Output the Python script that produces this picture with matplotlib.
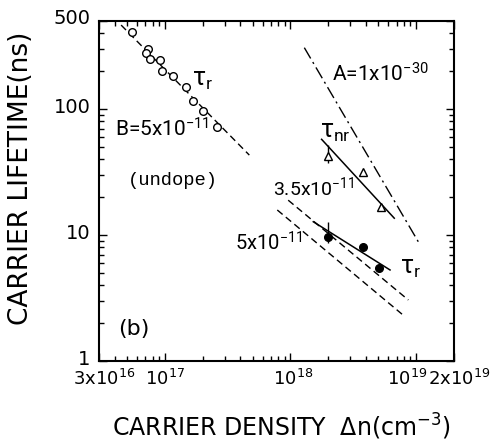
import numpy as np
import matplotlib.pyplot as plt
import matplotlib.transforms as mtransforms
from matplotlib.ticker import LogLocator, FixedLocator, FixedFormatter, NullFormatter

plt.rcParams['font.family'] = ['DejaVu Sans']
plt.rcParams['mathtext.fontset'] = 'dejavusans'
# Roboto math, used only by the annotations (math_fontfamily='custom')
plt.rcParams['mathtext.rm'] = 'Roboto'
plt.rcParams['mathtext.it'] = 'Roboto:italic'
plt.rcParams['mathtext.bf'] = 'Roboto:bold'

# undoped sample, radiative lifetime (open circles)
undope_n = [5.5e16, 7.3e16, 7.1e16, 7.7e16, 9.2e16, 9.5e16, 1.16e17, 1.47e17, 1.69e17, 2.03e17, 2.62e17]
undope_tau = [408, 299, 277, 248, 245, 200, 183, 150, 116, 96, 72]
# B = 5e-11 fit line
b_line_n = [4.5e16, 4.71e17]
b_line_tau = [464, 43.1]

# non-radiative lifetime (open triangles)
nr_n = [2.0e18, 3.8e18, 5.3e18]
nr_tau = [42.4, 31.8, 16.8]
nr_err_lo = [37.3]
nr_err_hi = [51.8]
nr_fit_n = [1.77e18, 6.7e18]
nr_fit_tau = [57.5, 13.6]
# A = 1e-30 line
a_line_n = [1.29e18, 1.04e19]
a_line_tau = [307, 8.85]

# doped sample radiative lifetime (filled circles)
r_n = [1.98e18, 3.76e18, 5.1e18]
r_tau = [9.7, 8.08, 5.5]
r_err_lo = [8.7]
r_err_hi = [12.7]
r_fit_n = [1.52e18, 6.2e18]
r_fit_tau = [12.75, 5.28]
# B = 3.5e-11 and 5e-11 lines
b35_n = [9.6e17, 8.67e18]
b35_tau = [18.9, 3.05]
b50_n = [7.86e17, 8.15e18]
b50_tau = [15.8, 2.25]

xticks = [3e16, 1e17, 1e18, 1e19, 2e19]
xtick_labels = ['3x10$^{16}$', '10$^{17}$', '10$^{18}$', '10$^{19}$', '2x10$^{19}$']
yticks = [1, 10, 100, 500]
ytick_labels = ['1', '10', '100', '500']

fig = plt.figure(figsize=(4.91, 4.41), dpi=100)
ax = fig.add_axes([0.2016, 0.1814, 0.723, 0.771])
ax.set_xscale('log'); ax.set_yscale('log')
ax.set_xlim(3e16, 2e19); ax.set_ylim(1, 500)

k = 'black'
ax.plot(b_line_n, b_line_tau, color=k, lw=1, ls=(0, (5, 3)))
ax.plot(undope_n, undope_tau, 'o', mfc='white', mec=k, ms=5.5, mew=1)

ax.plot(a_line_n, a_line_tau, color=k, lw=1, ls=(0, (9, 3, 1.5, 3)))
ax.plot(nr_fit_n, nr_fit_tau, color=k, lw=1.1)
ax.vlines(nr_n[0], nr_err_lo[0], nr_err_hi[0], color=k, lw=1)
ax.plot(nr_n, nr_tau, '^', mfc='white', mec=k, ms=6, mew=1)

ax.plot(b35_n, b35_tau, color=k, lw=1, ls=(0, (5, 3)))
ax.plot(b50_n, b50_tau, color=k, lw=1, ls=(0, (5, 3)))
ax.plot(r_fit_n, r_fit_tau, color=k, lw=1.1)
ax.vlines(r_n[0], r_err_lo[0], r_err_hi[0], color=k, lw=1)
ax.plot(r_n, r_tau, 'o', color=k, ms=5.5)

rob = dict(family='Roboto', fontsize=15, math_fontfamily='custom')
ax.text(1.65e17, 170, r'τ$_\mathrm{r}$', ha='left', va='center', **dict(rob, fontsize=18))
ax.text(4.02e16, 60, 'B=5x10$^{-11}$', ha='left', va='baseline', **rob)
ax.text(5.1e16, 27.3, '(undope)', fontsize=13.5, family='Liberation Mono', ha='left', va='center')
ax.text(2.14e18, 164, 'A=1x10$^{-30}$', ha='left', va='baseline', **rob)
ax.text(1.72e18, 58.9, r'τ$_\mathrm{nr}$', ha='left', va='baseline', **dict(rob, fontsize=18))
ax.text(7.27e17, 20.8, '3.5x10$^{-11}$', ha='left', va='baseline', **dict(rob, fontsize=14))
ax.text(3.62e17, 7.6, '5x10$^{-11}$', ha='left', va='baseline', **dict(rob, fontsize=14.5))
ax.text(7.44e18, 5.47, r'τ$_\mathrm{r}$', ha='left', va='center', **dict(rob, fontsize=18))
ax.text(0.054, 0.094, '(b)', fontsize=16, transform=ax.transAxes, ha='left', va='center')

ax.xaxis.set_major_locator(FixedLocator(xticks))
ax.xaxis.set_major_formatter(FixedFormatter(xtick_labels))
ax.xaxis.set_minor_locator(LogLocator(base=10, subs=np.arange(2, 10)))
ax.xaxis.set_minor_formatter(NullFormatter())
ax.yaxis.set_major_locator(FixedLocator(yticks))
ax.yaxis.set_major_formatter(FixedFormatter(ytick_labels))
ax.yaxis.set_minor_locator(LogLocator(base=10, subs=np.arange(2, 10)))
ax.yaxis.set_minor_formatter(NullFormatter())

ax.tick_params(which='both', direction='in', top=True, right=True, width=1)
ax.tick_params(which='major', length=6, pad=6)
ax.tick_params(axis='x', which='major', labelsize=13)
ax.tick_params(axis='y', which='major', labelsize=14)
ax.tick_params(which='minor', length=3.5)
for s in ax.spines.values():
    s.set_linewidth(1.5)

# nudge a few tick labels like the original
x_shift = [5, 0, 3, -9, 5]
for tick, dx in zip(ax.xaxis.get_major_ticks(), x_shift):
    off = mtransforms.ScaledTranslation(dx / 100, 0, fig.dpi_scale_trans)
    tick.label1.set_transform(tick.label1.get_transform() + off)
for tick in ax.yaxis.get_major_ticks():
    off = mtransforms.ScaledTranslation(0, 4 / 100, fig.dpi_scale_trans)
    tick.label1.set_transform(tick.label1.get_transform() + off)

ax.set_xlabel('CARRIER DENSITY  Δn(cm$^{-3}$)', fontsize=17)
ax.set_ylabel('CARRIER LIFETIME(ns)', fontsize=19)
ax.xaxis.set_label_coords(0.515, -0.148)
ax.yaxis.set_label_coords(-0.182, 0.537)

fig.savefig('out.png', dpi=100)
